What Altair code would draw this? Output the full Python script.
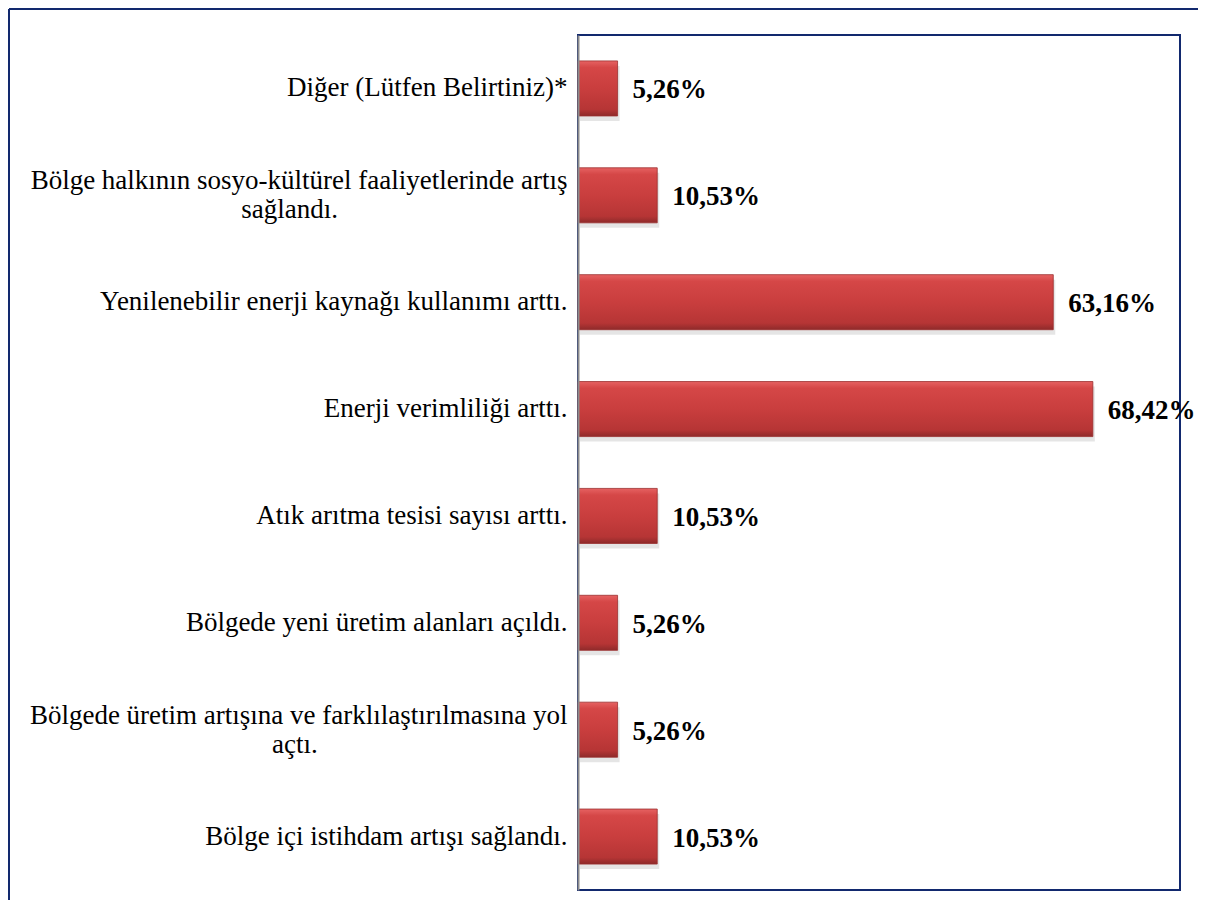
import altair as alt
import pandas as pd

categories = [
    "Diğer (Lütfen Belirtiniz)*",
    "Bölge halkının sosyo-kültürel faaliyetlerinde artış\nsağlandı.",
    "Yenilenebilir enerji kaynağı kullanımı arttı.",
    "Enerji verimliliği arttı.",
    "Atık arıtma tesisi sayısı arttı.",
    "Bölgede yeni üretim alanları açıldı.",
    "Bölgede üretim artışına ve farklılaştırılmasına yol\naçtı.",
    "Bölge içi istihdam artışı sağlandı.",
]
values = [5.26, 10.53, 63.16, 68.42, 10.53, 5.26, 5.26, 10.53]


def axis_label(text):
    # second line of a wrapped label is centred under the first one
    lines = text.split("\n")
    if len(lines) == 2:
        pad = round((len(lines[0]) - len(lines[1])) * 0.8)
        lines[1] = lines[1] + "\u00a0" * pad + "\u200b"
    return "|".join(lines)


labels = [axis_label(c) for c in categories]
df = pd.DataFrame({"label": labels, "value": values})

FONT = "Liberation Serif"
NAVY = "#12296e"

y_enc = alt.Y(
    "label:N",
    sort=labels,
    scale=alt.Scale(paddingInner=0.485, paddingOuter=0.2425),
    axis=alt.Axis(
        title=None,
        labelExpr="split(datum.label, '|')",
        labelFont=FONT,
        labelFontSize=27,
        labelColor="black",
        labelPadding=11,
        labelLimit=0,
        labelLineHeight=29,
        labelOffset={
            "condition": {"test": "indexof(datum.value, '|') >= 0", "value": -14},
            "value": 0,
        },
        ticks=False,
        domainColor="#8c8c8c",
        domainWidth=2,
        zindex=1,
    ),
)
x_enc = alt.X("value:Q", scale=alt.Scale(domain=[0, 80]), axis=None)

base = alt.Chart(df)

shadow = base.mark_bar(color="#000000", opacity=0.10, yOffset=5, xOffset=2).encode(
    x=x_enc, y=y_enc
)

gradient = alt.LinearGradient(
    gradient="linear",
    x1=0, y1=0, x2=0, y2=1,
    stops=[
        alt.GradientStop(offset=0, color="#e66262"),
        alt.GradientStop(offset=0.12, color="#d54747"),
        alt.GradientStop(offset=0.5, color="#c93e3e"),
        alt.GradientStop(offset=0.88, color="#b63535"),
        alt.GradientStop(offset=1, color="#8e2a2a"),
    ],
)

bars = base.mark_bar(color=gradient, stroke="#9b2e2e", strokeWidth=0.8).encode(
    x=x_enc, y=y_enc
)

text = (
    base.transform_calculate(
        txt="replace(format(datum.value, '.2f'), '.', ',') + '%'"
    )
    .mark_text(
        align="left",
        baseline="middle",
        dx=15,
        dy=2,
        font=FONT,
        fontSize=27,
        fontWeight="bold",
        color="black",
    )
    .encode(x=x_enc, y=y_enc, text="txt:N")
)

frame_left = alt.Chart(df).mark_rule(color=NAVY, strokeWidth=2).encode(
    x=alt.value(-569), y=alt.value(-26), y2=alt.value(880)
)
frame_top = alt.Chart(df).mark_rule(color=NAVY, strokeWidth=2).encode(
    x=alt.value(-569), x2=alt.value(640), y=alt.value(-26)
)

chart = (
    alt.layer(shadow, bars, text, frame_left, frame_top)
    .properties(
        width=602,
        height=855,
        padding={"left": 570, "top": 27, "right": 18, "bottom": 10},
        autosize=alt.AutoSizeParams(type="none"),
    )
    .configure_view(stroke=NAVY, strokeWidth=2)
)

chart.save("out.html", embed_options={"renderer": "svg", "actions": False})
